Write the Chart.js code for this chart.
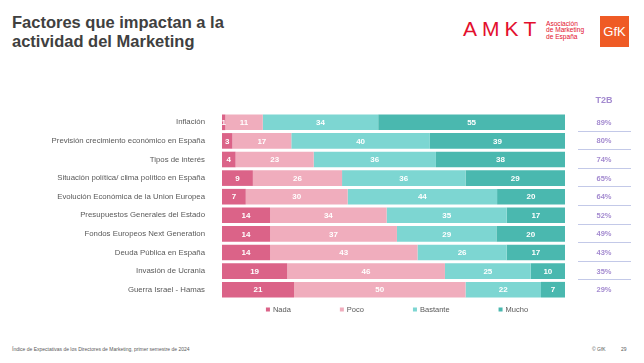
<!DOCTYPE html>
<html>
<head>
<meta charset="utf-8">
<script src="https://cdn.jsdelivr.net/npm/chart.js@4.4.1/dist/chart.umd.min.js"></script>
<style>
  body { margin:0; width:644px; height:363px; position:relative; overflow:hidden; background:#fff; font-family:"Liberation Sans", Arial, sans-serif; }
  #title { position:absolute; left:12px; top:13px; font-size:16.5px; font-weight:bold; color:#404040; line-height:19px; }
  #amkt { position:absolute; left:463px; top:18px; font-size:21px; line-height:21px; color:#e30f2d; letter-spacing:5px; }
  #asoc { position:absolute; left:546px; top:21px; font-size:6.6px; line-height:6.4px; color:#e30f2d; }
  #gfk { position:absolute; left:600px; top:16px; width:29px; height:31px; background:#ef5b25; color:#fff; font-size:13px; line-height:31px; text-align:center; }
  #foot { position:absolute; left:12px; top:346px; font-size:5px; color:#595959; }
  #copy { position:absolute; left:592px; top:346px; font-size:5px; color:#595959; }
  #page { position:absolute; left:621px; top:346px; font-size:5px; color:#595959; }
  canvas { position:absolute; left:0; top:0; }
</style>
</head>
<body>
<div id="title">Factores que impactan a la<br>actividad del Marketing</div>
<div id="amkt">AMKT</div>
<div id="asoc">Asociación<br>de Marketing<br>de España</div>
<div id="gfk">GfK</div>
<div id="foot">Índice de Expectativas de los Directores de Marketing, primer semestre de 2024</div>
<div id="copy">© GfK</div>
<div id="page">29</div>
<canvas id="myChart" width="644" height="363"></canvas>
<script>
var categorias = ['Inflación', 'Previsión crecimiento económico en España', 'Tipos de interés',
  'Situación política/ clima político en España', 'Evolución Económica de la Union Europea',
  'Presupuestos Generales del Estado', 'Fondos Europeos Next Generation', 'Deuda Pública en España',
  'Invasión de Ucrania', 'Guerra Israel - Hamas'];
var nada     = [1, 3, 4, 9, 7, 14, 14, 14, 19, 21];
var poco     = [11, 17, 23, 26, 30, 34, 37, 43, 46, 50];
var bastante = [34, 40, 36, 36, 44, 35, 29, 26, 25, 22];
var mucho    = [55, 39, 38, 29, 20, 17, 20, 17, 10, 7];
var t2b      = ['89%', '80%', '74%', '65%', '64%', '52%', '49%', '43%', '35%', '29%'];
var series   = ['Nada', 'Poco', 'Bastante', 'Mucho'];
var colores  = ['#db6388', '#f0adbd', '#7dd6d2', '#4ab8af'];

var valores = [nada, poco, bastante, mucho];
// every row fills the full width (rounded values don't always add to 100)
var totales = categorias.map(function (c, i) {
  return nada[i] + poco[i] + bastante[i] + mucho[i];
});

var datasets = valores.map(function (serie, k) {
  return {
    label: series[k],
    data: serie.map(function (v, i) { return v / totales[i] * 100; }),
    raw: serie,
    backgroundColor: colores[k],
    borderWidth: 0,
    barPercentage: 0.84,
    categoryPercentage: 1
  };
});

var etiquetas = {
  id: 'etiquetas',
  afterDatasetsDraw: function (chart) {
    var ctx = chart.ctx;
    ctx.save();
    ctx.fillStyle = '#fff';
    ctx.font = 'bold 8px "Liberation Sans", Arial, sans-serif';
    ctx.textAlign = 'center';
    ctx.textBaseline = 'middle';
    chart.data.datasets.forEach(function (ds, k) {
      chart.getDatasetMeta(k).data.forEach(function (el, i) {
        ctx.fillText(ds.raw[i], (el.x + el.base) / 2, el.y + 0.5);
      });
    });
    ctx.restore();
  }
};

var columnaT2B = {
  id: 'columnaT2B',
  afterDraw: function (chart) {
    var ctx = chart.ctx;
    var y = chart.scales.y;
    var banda = y.getPixelForValue(1) - y.getPixelForValue(0);
    ctx.save();
    ctx.textAlign = 'center';
    ctx.textBaseline = 'middle';
    ctx.fillStyle = '#a48bd0';
    ctx.font = 'bold 9px "Liberation Sans", Arial, sans-serif';
    ctx.fillText('T2B', 604, 101);
    ctx.font = 'bold 7.5px "Liberation Sans", Arial, sans-serif';
    ctx.strokeStyle = '#c3c9e8';
    ctx.lineWidth = 1;
    t2b.forEach(function (t, i) {
      var py = y.getPixelForValue(i);
      ctx.fillStyle = '#a48bd0';
      ctx.fillText(t, 604, py + 0.5);
      if (i < t2b.length - 1) {
        ctx.beginPath();
        ctx.moveTo(578, Math.round(py + banda / 2 - 1) + 0.5);
        ctx.lineTo(631, Math.round(py + banda / 2 - 1) + 0.5);
        ctx.stroke();
      }
    });
    ctx.restore();
  }
};

var leyenda = {
  id: 'leyenda',
  afterDraw: function (chart) {
    var ctx = chart.ctx;
    ctx.save();
    ctx.font = '7.5px "Liberation Sans", Arial, sans-serif';
    ctx.textBaseline = 'middle';
    var caja = 4, sep = 3, pad = 49;
    var anchos = chart.data.datasets.map(function (ds) {
      return caja + sep + ctx.measureText(ds.label).width;
    });
    var total = anchos.reduce(function (a, b) { return a + b; }, 0) + pad * (anchos.length - 1);
    var x = 397 - total / 2;
    var yy = 309.5;
    chart.data.datasets.forEach(function (ds, k) {
      ctx.fillStyle = ds.backgroundColor;
      ctx.fillRect(x, yy - caja / 2, caja, caja);
      ctx.fillStyle = '#595959';
      ctx.fillText(ds.label, x + caja + sep, yy);
      x += anchos[k] + pad;
    });
    ctx.restore();
  }
};

var ctx = document.getElementById('myChart').getContext('2d');
var grafico = new Chart(ctx, {
  type: 'bar',
  data: { labels: categorias, datasets: datasets },
  options: {
    indexAxis: 'y',
    responsive: false,
    animation: false,
    layout: { padding: { top: 113, bottom: 64, right: 79, left: 0 } },
    plugins: { legend: { display: false }, tooltip: { enabled: false } },
    scales: {
      x: { stacked: true, display: false, min: 0, max: 100 },
      y: {
        stacked: true,
        grid: { display: false },
        border: { display: false },
        afterFit: function (scale) { scale.width = 222; },
        ticks: { color: '#595959', padding: 9, font: { size: 7.8, family: '"Liberation Sans", Arial, sans-serif' } }
      }
    }
  },
  plugins: [etiquetas, columnaT2B, leyenda]
});
</script>
</body>
</html>
